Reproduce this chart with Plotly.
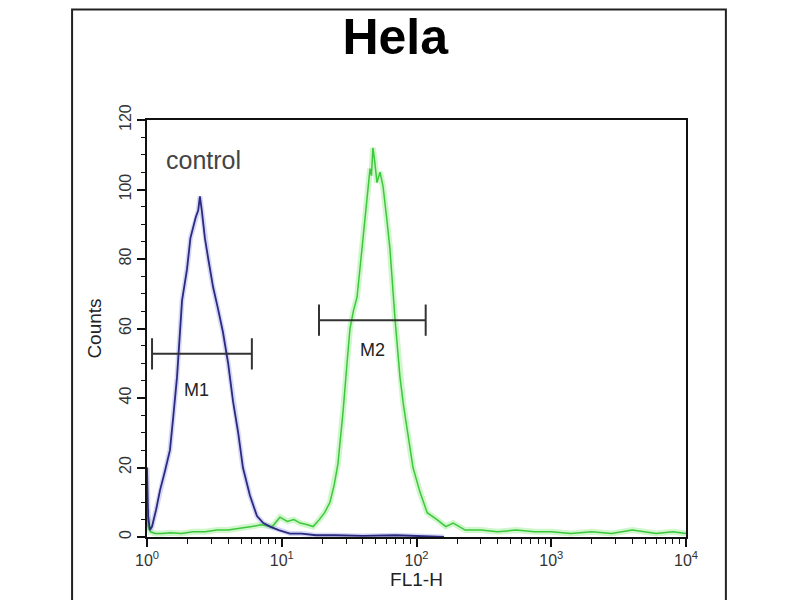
import math
import plotly.graph_objects as go

# ---- data ----
blue_x = [1.0, 1.02, 1.05, 1.09, 1.17, 1.25, 1.36, 1.48, 1.57, 1.67, 1.82, 1.98, 2.1, 2.19, 2.3, 2.4,
          2.47, 2.55, 2.69, 2.85, 3.09, 3.35, 3.66, 4.0, 4.35, 4.75, 5.15, 5.8, 6.55, 7.3, 8.18, 9.5,
          11.5, 14, 18, 25, 40, 70, 100, 160]
blue_y = [20, 6, 2, 3, 8, 13.5, 19, 25, 35, 46, 68, 77, 86, 89, 92, 94,
          98, 94, 86, 80, 72, 66, 59, 50, 39, 30, 20, 12, 6, 4, 3, 2,
          1, 1, 0.5, 0.5, 0.3, 0.5, 0.3, 0]

green_x = [1.0, 1.02, 1.06, 1.15, 1.3, 1.5, 1.8, 2.2, 2.7, 3.3, 4, 5, 6, 7, 8.5, 9.7, 11, 12.3, 13.7,
           15.5, 17.1, 19, 20.8, 22.8, 24.5, 26.1, 28.5, 30.5, 32.1, 34, 36.2, 39.4, 41, 42.9, 45.2,
           46.3, 47.5, 49, 50.9, 53.6, 56.4, 60, 63.5, 69.2, 75.4, 80, 85, 94.2, 106, 120, 142, 165,
           187, 230, 300, 400, 550, 750, 1000, 1400, 2000, 2800, 4000, 6000, 8000, 10000]
green_y = [8, 3, 1.5, 1, 1, 1.2, 1, 1.5, 1.5, 2, 2, 2.5, 3, 3.5, 3, 5.7, 4.5, 5, 4,
           3.5, 3, 5, 7, 10, 15, 21, 36, 50, 60, 65, 69, 83, 90, 98, 106,
           104, 112, 108, 102, 105, 101, 92, 83, 63, 46, 38, 31, 20, 13, 7, 5, 3,
           4, 2, 2, 1.5, 2, 1.5, 1.5, 1, 1.5, 1, 2, 1, 1.5, 1]

# gate markers
gate_names = ["M1", "M2"]
gate_x0 = [1.09, 18.9]
gate_x1 = [6.0, 117]
gate_y = [52.7, 62.4]

x_tickvals = [1, 10, 100, 1000, 10000]
x_ticktext = ["10<sup>0</sup>", "10<sup>1</sup>", "10<sup>2</sup>", "10<sup>3</sup>", "10<sup>4</sup>"]
y_tickvals = [0, 20, 40, 60, 80, 100, 120]

FONT = "Liberation Sans, Arial, sans-serif"
NARROW = "Liberation Sans Narrow, Arial Narrow, Liberation Sans, sans-serif"
label_xshift = [-5, 0]
label_yoff = [10.4, 8.5]

fig = go.Figure()
# soft glow
fig.add_trace(go.Scatter(x=green_x, y=green_y, mode="lines", line=dict(color="rgba(150,235,140,0.45)", width=6),
                         hoverinfo="skip", showlegend=False))
fig.add_trace(go.Scatter(x=blue_x, y=blue_y, mode="lines", line=dict(color="rgba(140,140,230,0.35)", width=5),
                         hoverinfo="skip", showlegend=False))
fig.add_trace(go.Scatter(x=green_x, y=green_y, mode="lines", line=dict(color="#3cc83c", width=1.5),
                         showlegend=False))
fig.add_trace(go.Scatter(x=blue_x, y=blue_y, mode="lines", line=dict(color="#2a2a80", width=1.8),
                         showlegend=False))

for name, a, b, yv, dx, dy in zip(gate_names, gate_x0, gate_x1, gate_y, label_xshift, label_yoff):
    fig.add_shape(type="line", xref="x", yref="y", x0=a, x1=b, y0=yv, y1=yv,
                  line=dict(color="#333333", width=2))
    for xe in (a, b):
        fig.add_shape(type="line", xref="x", yref="y", x0=xe, x1=xe, y0=yv - 4.5, y1=yv + 4.5,
                      line=dict(color="#333333", width=2))
    xm = (math.log10(a) + math.log10(b)) / 2
    fig.add_annotation(x=xm, y=yv - dy, xref="x", yref="y", text=name, showarrow=False, xshift=dx,
                       font=dict(family=NARROW, size=18, color="#222222"))

fig.add_annotation(x=0.032, y=0.904, xref="paper", yref="paper", text="control", showarrow=False,
                   xanchor="left", yanchor="middle",
                   font=dict(family=FONT, size=25, color="#444444"))

# outer frame
fig.add_shape(type="rect", xref="paper", yref="paper", x0=-0.139, x1=1.074, y0=-0.25, y1=1.265,
              line=dict(color="#222222", width=2), layer="below")

fig.update_layout(
    width=800, height=600,
    margin=dict(l=139, r=122, t=112, b=71),
    paper_bgcolor="white", plot_bgcolor="white",
    title=dict(text="<b>Hela</b>", x=0.484, xanchor="center", y=0.952, yanchor="middle",
               font=dict(family=FONT, size=50, color="black")),
    font=dict(family=FONT, color="#222222"),
)
fig.update_xaxes(type="log", range=[0, 4], tickvals=x_tickvals, ticktext=x_ticktext,
                 showline=True, linecolor="#111111", linewidth=2, mirror=True,
                 ticks="outside", ticklen=8, tickwidth=1.5, tickcolor="#111111",
                 minor=dict(ticks="outside", ticklen=5, tickwidth=1.2, tickcolor="#111111", dtick="D1"),
                 showgrid=False, zeroline=False,
                 tickfont=dict(family=FONT, size=16, color="#333333"),
                 title=dict(text="FL1-H", font=dict(family=NARROW, size=19, color="#222222"), standoff=0))
fig.update_yaxes(range=[0, 120], tickvals=y_tickvals, tickangle=-90,
                 showline=True, linecolor="#111111", linewidth=2, mirror=True,
                 ticks="outside", ticklen=8, tickwidth=1.5, tickcolor="#111111",
                 minor=dict(ticks="outside", ticklen=4, tickwidth=1.2, tickcolor="#111111", dtick=5),
                 showgrid=False, zeroline=False,
                 tickfont=dict(family=FONT, size=16, color="#333333"),
                 title=dict(text="Counts", font=dict(family=NARROW, size=19, color="#222222"), standoff=10))

fig.write_html("out.html")
